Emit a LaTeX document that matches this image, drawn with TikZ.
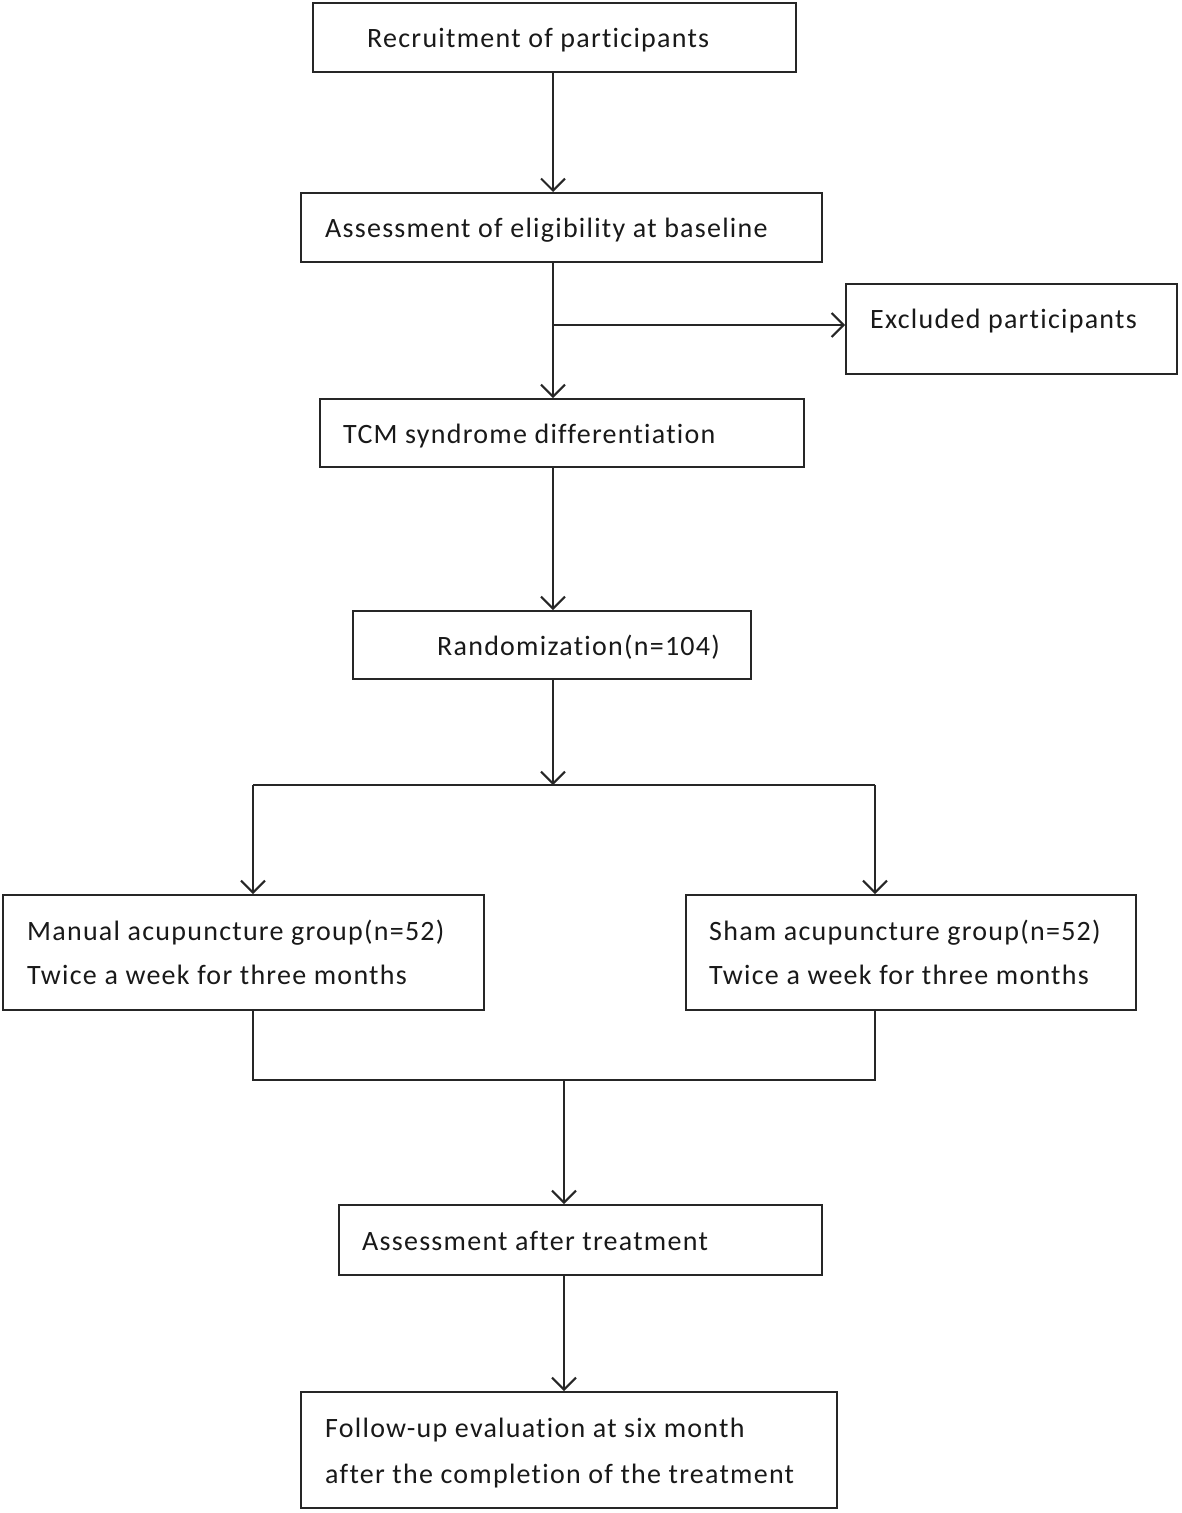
\documentclass[tikz,border=0pt]{standalone}
\usepackage{fontspec}
\setmainfont[Ligatures=NoCommon, LetterSpace=4.5]{Carlito}
\usetikzlibrary{arrows.meta}
\begin{document}
\begin{tikzpicture}[x=1pt,y=-1pt,
  box/.style={draw=black!85, line width=2pt, rectangle, inner sep=0pt},
  txt/.style={inner sep=0pt, anchor=base west, font=\fontsize{28}{28}\selectfont, text=black!90},
  link/.style={draw=black!85, line width=2pt},
  arr/.style={link, -{Straight Barb[length=12pt, width=24pt, line width=2pt]}}]
\useasboundingbox[fill=white] (0,0) rectangle (1181,1513);
% boxes
\node[box, minimum width=483pt, minimum height=69pt] (r1) at (554.5,37.5) {};
\node[box, minimum width=521pt, minimum height=69pt] (r2) at (561.5,227.5) {};
\node[box, minimum width=331pt, minimum height=90pt] (ex) at (1011.5,329) {};
\node[box, minimum width=484pt, minimum height=68pt] (tcm) at (562,433) {};
\node[box, minimum width=398pt, minimum height=68pt] (rnd) at (552,645) {};
\node[box, minimum width=481pt, minimum height=115pt] (man) at (243.5,952.5) {};
\node[box, minimum width=450pt, minimum height=115pt] (sham) at (911,952.5) {};
\node[box, minimum width=483pt, minimum height=70pt] (aat) at (580.5,1240) {};
\node[box, minimum width=536pt, minimum height=116pt] (fu) at (569,1450) {};
% texts
\node[txt] (t1) at (367,47) {Recruitment of participants};
\node[txt] (t2) at (325,237) {Assessment of eligibility at baseline};
\node[txt] (t3) at (870,328) {Excluded participants};
\node[txt] (t4) at (343,443) {TCM syndrome differentiation};
\node[txt] (t5) at (437,655) {Randomization(n=104)};
\node[txt] (t6a) at (27,940) {Manual acupuncture group(n=52)};
\node[txt] (t6b) at (27,984) {Twice a week for three months};
\node[txt] (t7a) at (709,940) {Sham acupuncture group(n=52)};
\node[txt] (t7b) at (709,984) {Twice a week for three months};
\node[txt] (t8) at (362,1250) {Assessment after treatment};
\node[txt] (t9a) at (325,1437) {Follow-up evaluation at six month};
\node[txt] (t9b) at (325,1483) {after the completion of the treatment};
% connectors
\coordinate (xa) at (553,0);
\coordinate (br) at (553,325);
\coordinate (sl) at (253,785);
\coordinate (sm) at (553,785);
\coordinate (sr) at (875,785);
\coordinate (jl) at (253,1080);
\coordinate (jm) at (564,1080);
\coordinate (jr) at (875,1080);
\draw[arr] (r1.south -| xa) -- (r2.north -| xa);
\draw[arr] (r2.south -| xa) -- (tcm.north -| xa);
\draw[arr] (br) -- (br -| ex.west);
\draw[arr] (tcm.south -| xa) -- (rnd.north -| xa);
\draw[arr] (rnd.south -| xa) -- (sm);
\draw[link] (sl) -- (sr);
\draw[arr] (sl) -- (sl |- man.north);
\draw[arr] (sr) -- (sr |- sham.north);
\draw[link] (man.south -| jl) -- (jl) -- (jr) -- (sham.south -| jr);
\draw[arr] (jm) -- (aat.north -| jm);
\draw[arr] (aat.south -| jm) -- (fu.north -| jm);
\end{tikzpicture}
\end{document}
